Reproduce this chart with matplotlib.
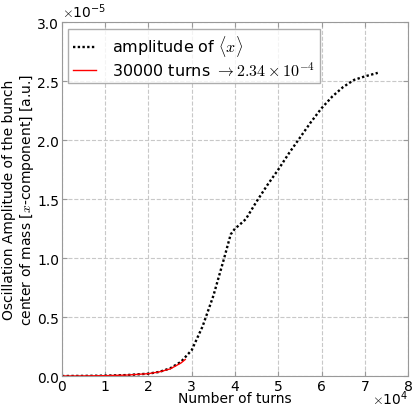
import matplotlib

matplotlib.use("Agg")
import matplotlib.pyplot as plt

# turns (in units of 1e4) and amplitude (in units of 1e-5)
turns = [0, 0.5, 1.0, 1.5, 2.0, 2.25, 2.5, 2.75, 3.0, 3.25, 3.5, 3.75, 3.9, 4.0,
         4.1, 4.25, 4.5, 4.75, 5.0, 5.25, 5.5, 5.75, 6.0, 6.25, 6.5, 6.75, 7.0, 7.3]
amplitude = [0, 0.001, 0.003, 0.008, 0.02, 0.035, 0.065, 0.12, 0.22, 0.42, 0.68,
             1.0, 1.2, 1.25, 1.28, 1.33, 1.48, 1.62, 1.75, 1.89, 2.02, 2.15, 2.27,
             2.37, 2.45, 2.51, 2.54, 2.57]

fit_turns = [0, 0.5, 1.0, 1.5, 2.0, 2.25, 2.5, 2.75, 2.85]
fit_amplitude = [0.0, 0.001, 0.003, 0.008, 0.02, 0.035, 0.06, 0.11, 0.14]

x_ticks = [0, 1, 2, 3, 4, 5, 6, 7, 8]
y_ticks = [0.0, 0.5, 1.0, 1.5, 2.0, 2.5, 3.0]

plt.rcParams["mathtext.fontset"] = "cm"
plt.rcParams["font.family"] = "DejaVu Sans"

fig = plt.figure(figsize=(4.13, 4.06), dpi=100)
ax = fig.add_axes([0.150, 0.0714, 0.838, 0.8716])

ax.plot(turns, amplitude, color="black", linestyle=(0, (1, 1)), linewidth=1.7,
        label=r"amplitude of $\langle x \rangle$")
ax.plot(fit_turns, fit_amplitude, color="red", linewidth=1.0,
        label=r"30000 turns $\rightarrow 2.34\times10^{-4}$")

ax.set_xlim(0, 8)
ax.set_ylim(0, 3)
ax.set_xticks(x_ticks)
ax.set_xticklabels([str(t) for t in x_ticks])
ax.set_yticks(y_ticks)
ax.set_yticklabels([f"{t:.1f}" for t in y_ticks])
ax.tick_params(direction="in", top=True, right=True, labelsize=10, colors="black",
               color="#999999", pad=2)
for spine in ax.spines.values():
    spine.set_color("#999999")
ax.grid(True, color="#c8c8c8", linestyle="--", linewidth=0.8)

# scale factors, placed like the reference
ax.text(0.0, 1.005, r"$\times\mathdefault{10^{-5}}$", transform=ax.transAxes,
        ha="left", va="bottom", fontsize=10)
ax.text(1.0, -0.035, r"$\times\mathdefault{10^{4}}$", transform=ax.transAxes,
        ha="right", va="top", fontsize=10)

ax.set_xlabel("Number of turns", fontsize=10, labelpad=-1)
ax.set_ylabel("Oscillation Amplitude of the bunch\ncenter of mass [$x$-component] [a.u.]",
              fontsize=10, labelpad=1, linespacing=1.15)
ax.legend(loc="upper left", fontsize=11.5, fancybox=False, edgecolor="#999999",
          handlelength=1.45, handletextpad=1.0, borderaxespad=0.4, labelspacing=0.1,
          borderpad=0.3)

fig.savefig("out.png", dpi=100)
